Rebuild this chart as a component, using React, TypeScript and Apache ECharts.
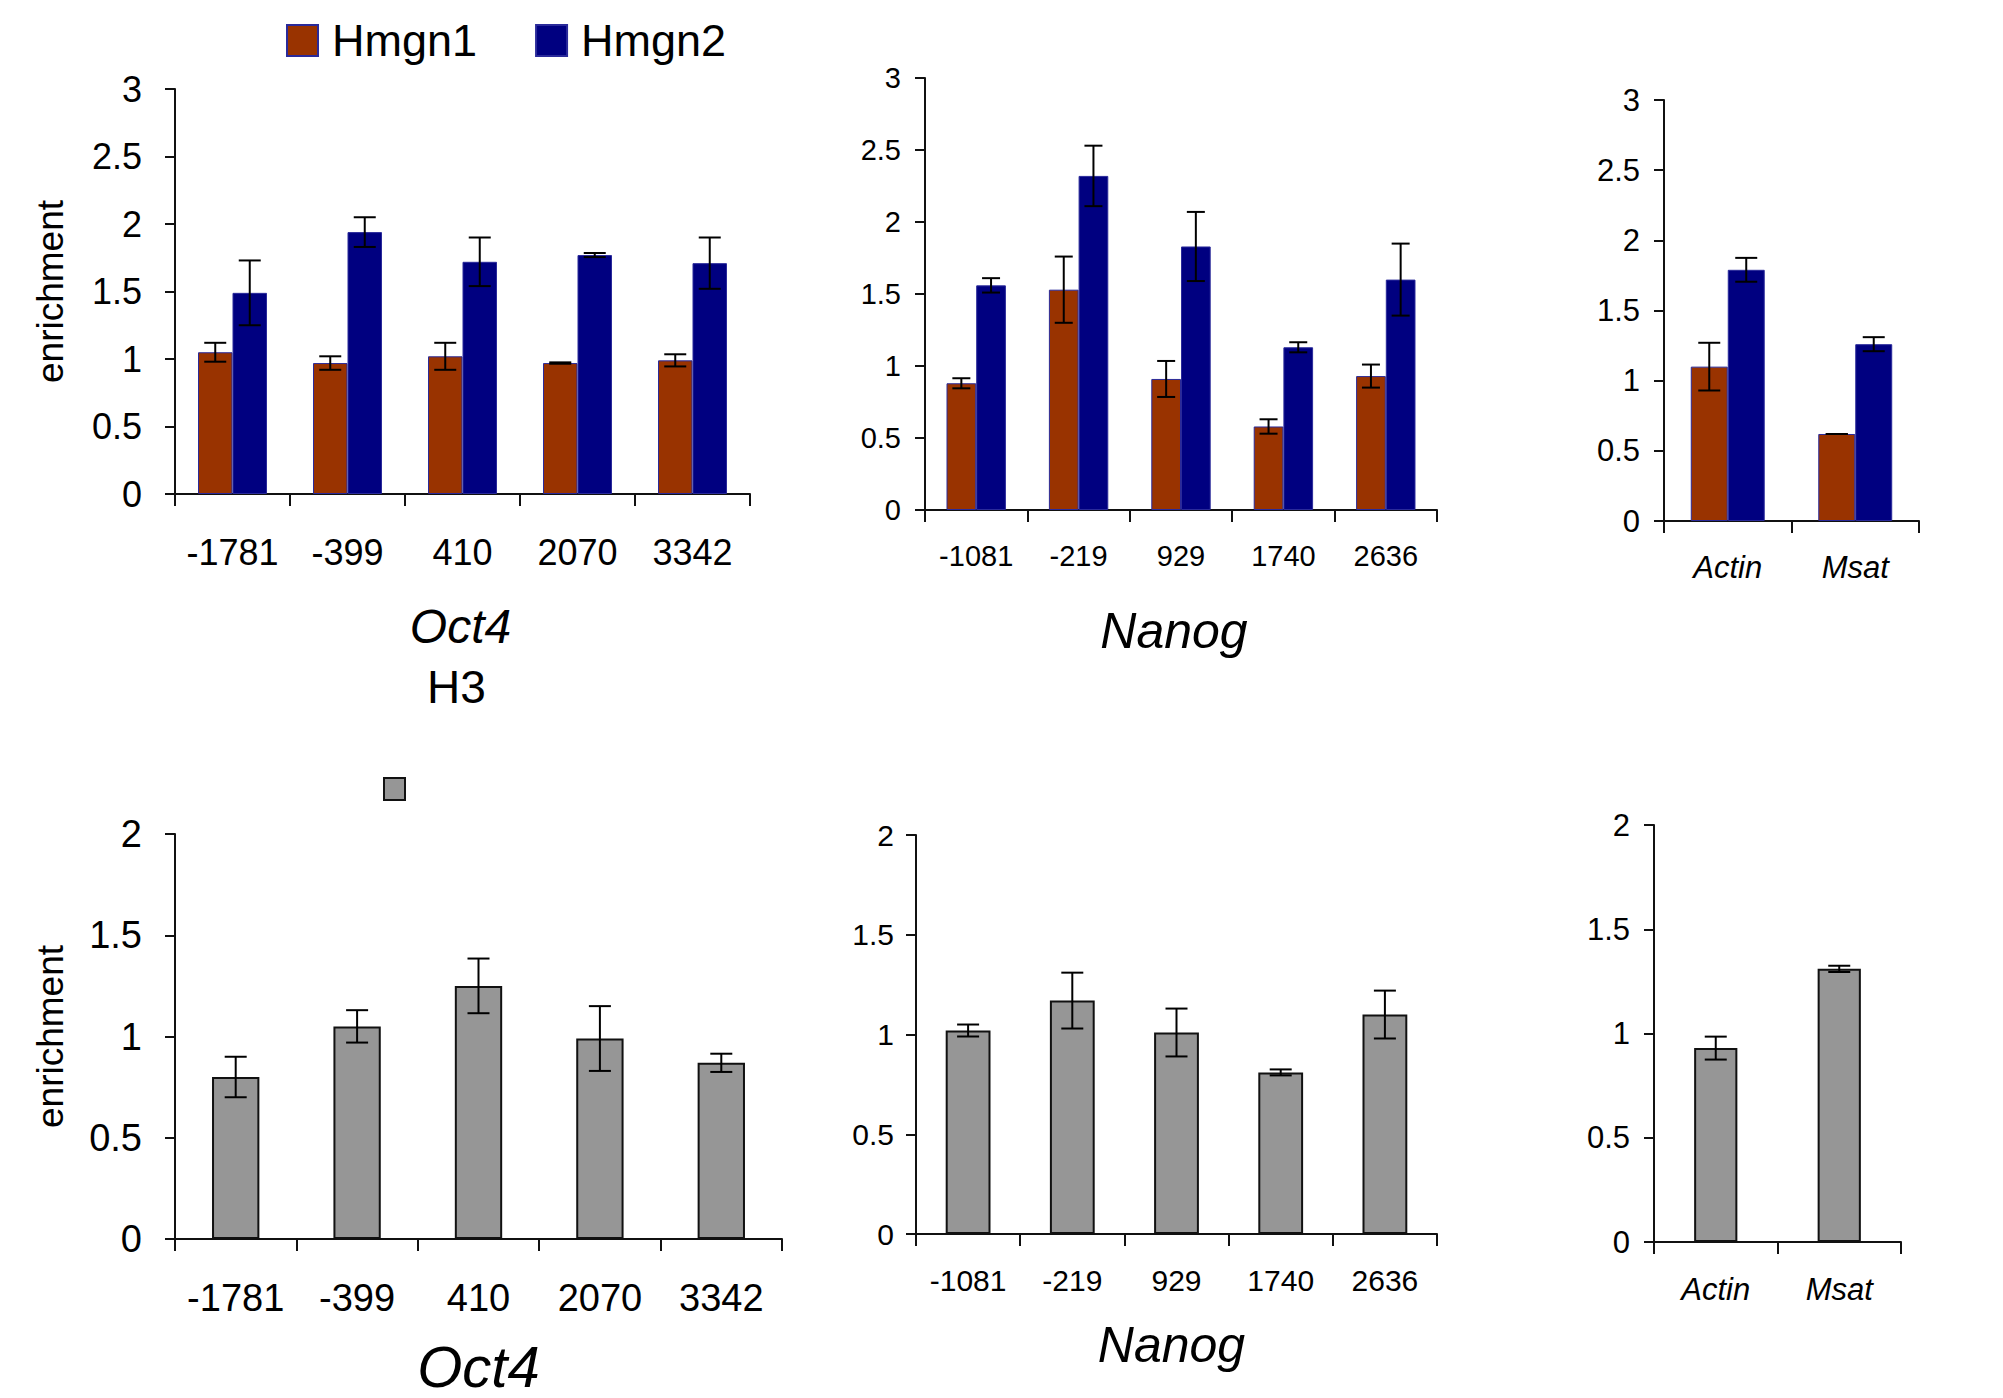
import React, { useEffect, useRef } from "react";
import * as echarts from "echarts";

// Amplicon positions and control loci
const oct4Sites = ["-1781", "-399", "410", "2070", "3342"];
const nanogSites = ["-1081", "-219", "929", "1740", "2636"];
const controlLoci = ["Actin", "Msat"];

// Hmgn1 / Hmgn2 ChIP enrichment (mean, error)
const oct4Hmgn1 = [1.05, 0.97, 1.02, 0.97, 0.99];
const oct4Hmgn1Err = [0.07, 0.05, 0.1, 0.005, 0.045];
const oct4Hmgn2 = [1.49, 1.94, 1.72, 1.77, 1.71];
const oct4Hmgn2Err = [0.24, 0.11, 0.18, 0.015, 0.19];

const nanogHmgn1 = [0.88, 1.53, 0.91, 0.58, 0.93];
const nanogHmgn1Err = [0.035, 0.23, 0.125, 0.05, 0.08];
const nanogHmgn2 = [1.56, 2.32, 1.83, 1.13, 1.6];
const nanogHmgn2Err = [0.05, 0.21, 0.24, 0.035, 0.25];

const ctrlHmgn1 = [1.1, 0.62];
const ctrlHmgn1Err = [0.17, 0.0];
const ctrlHmgn2 = [1.79, 1.26];
const ctrlHmgn2Err = [0.085, 0.05];

// H3 ChIP enrichment (mean, error)
const oct4H3 = [0.8, 1.05, 1.25, 0.99, 0.87];
const oct4H3Err = [0.1, 0.08, 0.135, 0.16, 0.045];
const nanogH3 = [1.02, 1.17, 1.01, 0.81, 1.1];
const nanogH3Err = [0.03, 0.14, 0.12, 0.015, 0.12];
const ctrlH3 = [0.93, 1.31];
const ctrlH3Err = [0.055, 0.015];

const FONT = "'Liberation Sans', Arial, sans-serif";
const HMGN1_COLOR = "#993300";
const HMGN2_COLOR = "#000080";
const H3_COLOR = "#969696";
const AXIS_COLOR = "#111";

type Panel = {
  grid: { left: number; top: number; width: number; height: number };
  cats: string[];
  max: number;
  tickFont: number;
  yMargin: number;
  xMargin: number;
  italicCats?: boolean;
  name?: string;
  nameFont?: number;
  nameGap?: number;
  namePad?: number[];
  yName?: boolean;
};

const panels: Panel[] = [
  { grid: { left: 175, top: 89, width: 575, height: 405 }, cats: oct4Sites, max: 3, tickFont: 36, yMargin: 33, xMargin: 40, name: "Oct4", nameFont: 48, nameGap: 108, namePad: [0, 4, 0, 0], yName: true },
  { grid: { left: 925, top: 78, width: 512, height: 432 }, cats: nanogSites, max: 3, tickFont: 29, yMargin: 24, xMargin: 31, name: "Nanog", nameFont: 50, nameGap: 96, namePad: [0, 14, 0, 0] },
  { grid: { left: 1664, top: 100, width: 255, height: 421 }, cats: controlLoci, max: 3, tickFont: 31, yMargin: 24, xMargin: 31, italicCats: true },
  { grid: { left: 175, top: 834, width: 607, height: 405 }, cats: oct4Sites, max: 2, tickFont: 38, yMargin: 33, xMargin: 40, name: "Oct4", nameFont: 58, nameGap: 98, yName: true },
  { grid: { left: 916, top: 835, width: 521, height: 399 }, cats: nanogSites, max: 2, tickFont: 30, yMargin: 22, xMargin: 31, name: "Nanog", nameFont: 50, nameGap: 86, namePad: [0, 10, 0, 0] },
  { grid: { left: 1654, top: 825, width: 247, height: 417 }, cats: controlLoci, max: 2, tickFont: 31, yMargin: 24, xMargin: 32, italicCats: true },
];

function errorSeries(name: string, idx: number, values: number[], errors: number[], offsetFrac: number, capHalf: number) {
  return {
    type: "custom",
    name,
    xAxisIndex: idx,
    yAxisIndex: idx,
    z: 5,
    encode: { x: 0, y: 1 },
    data: values.map((v, i) => [i, v, errors[i]]),
    renderItem: (_params: any, api: any) => {
      const i = api.value(0);
      const v = api.value(1);
      const e = api.value(2);
      const band = api.size([1, 0])[0];
      const x = api.coord([i, v])[0] + offsetFrac * band;
      const yTop = api.coord([i, v + e])[1];
      const yBot = api.coord([i, v - e])[1];
      const style = { stroke: "#000", lineWidth: 2 };
      return {
        type: "group",
        children: [
          { type: "line", shape: { x1: x, y1: yTop, x2: x, y2: yBot }, style },
          { type: "line", shape: { x1: x - capHalf, y1: yTop, x2: x + capHalf, y2: yTop }, style },
          { type: "line", shape: { x1: x - capHalf, y1: yBot, x2: x + capHalf, y2: yBot }, style },
        ],
      };
    },
  };
}

function barSeries(name: string, idx: number, values: number[], color: string, width: string, border: string, borderWidth: number) {
  return {
    type: "bar",
    name,
    xAxisIndex: idx,
    yAxisIndex: idx,
    data: values,
    barWidth: width,
    barGap: "0%",
    itemStyle: { color, borderColor: border, borderWidth },
  };
}

export default function App() {
  const ref = useRef<HTMLDivElement>(null);

  useEffect(() => {
    document.body.style.margin = "0";
    if (!ref.current) return;
    const chart = echarts.init(ref.current, undefined, { renderer: "svg" });

    const grids = panels.map((p) => ({ ...p.grid, containLabel: false }));
    const xAxes = panels.map((p, i) => ({
      type: "category",
      gridIndex: i,
      data: p.cats,
      boundaryGap: true,
      axisLine: { show: true, lineStyle: { color: AXIS_COLOR, width: 2 } },
      axisTick: { show: true, length: 12, interval: 0, lineStyle: { color: AXIS_COLOR, width: 2 } },
      axisLabel: {
        interval: 0,
        color: "#000",
        fontFamily: FONT,
        fontSize: p.tickFont,
        fontStyle: p.italicCats ? "italic" : "normal",
        margin: p.xMargin,
      },
      name: p.name || "",
      nameLocation: "middle",
      nameGap: p.nameGap || 0,
      nameTextStyle: {
        fontFamily: FONT,
        fontSize: p.nameFont || 40,
        fontStyle: "italic",
        color: "#000",
        padding: p.namePad || 0,
      },
    }));
    const yAxes = panels.map((p, i) => ({
      type: "value",
      gridIndex: i,
      min: 0,
      max: p.max,
      interval: 0.5,
      splitLine: { show: false },
      axisLine: { show: true, lineStyle: { color: AXIS_COLOR, width: 2 } },
      axisTick: { show: true, length: 10, lineStyle: { color: AXIS_COLOR, width: 2 } },
      axisLabel: { color: "#000", fontFamily: FONT, fontSize: p.tickFont, margin: p.yMargin },
      name: p.yName ? "enrichment" : "",
      nameLocation: "middle",
      nameGap: 106,
      nameTextStyle: { fontFamily: FONT, fontSize: 37, color: "#000" },
    }));

    const hmgnBorder = "#2a2a9a";
    const series: any[] = [
      barSeries("Hmgn1", 0, oct4Hmgn1, HMGN1_COLOR, "30%", hmgnBorder, 1),
      barSeries("Hmgn2", 0, oct4Hmgn2, HMGN2_COLOR, "30%", hmgnBorder, 1),
      errorSeries("Hmgn1 error", 0, oct4Hmgn1, oct4Hmgn1Err, -0.15, 11),
      errorSeries("Hmgn2 error", 0, oct4Hmgn2, oct4Hmgn2Err, 0.15, 11),

      barSeries("Hmgn1", 1, nanogHmgn1, HMGN1_COLOR, "29%", hmgnBorder, 1),
      barSeries("Hmgn2", 1, nanogHmgn2, HMGN2_COLOR, "29%", hmgnBorder, 1),
      errorSeries("Hmgn1 error", 1, nanogHmgn1, nanogHmgn1Err, -0.145, 9),
      errorSeries("Hmgn2 error", 1, nanogHmgn2, nanogHmgn2Err, 0.145, 9),

      barSeries("Hmgn1", 2, ctrlHmgn1, HMGN1_COLOR, "29%", hmgnBorder, 1),
      barSeries("Hmgn2", 2, ctrlHmgn2, HMGN2_COLOR, "29%", hmgnBorder, 1),
      errorSeries("Hmgn1 error", 2, ctrlHmgn1, ctrlHmgn1Err, -0.145, 11),
      errorSeries("Hmgn2 error", 2, ctrlHmgn2, ctrlHmgn2Err, 0.145, 11),

      barSeries("H3", 3, oct4H3, H3_COLOR, "39%", "#111", 2),
      errorSeries("H3 error", 3, oct4H3, oct4H3Err, 0, 11),
      barSeries("H3", 4, nanogH3, H3_COLOR, "43%", "#111", 2),
      errorSeries("H3 error", 4, nanogH3, nanogH3Err, 0, 11),
      barSeries("H3", 5, ctrlH3, H3_COLOR, "35%", "#111", 2),
      errorSeries("H3 error", 5, ctrlH3, ctrlH3Err, 0, 11),
    ];

    chart.setOption({
      animation: false,
      backgroundColor: "#fff",
      textStyle: { fontFamily: FONT },
      grid: grids,
      xAxis: xAxes,
      yAxis: yAxes,
      legend: [
        {
          data: ["Hmgn1", "Hmgn2"],
          left: 286,
          top: 18,
          padding: 0,
          icon: "rect",
          itemWidth: 31,
          itemHeight: 31,
          itemGap: 58,
          selectedMode: false,
          textStyle: { fontFamily: FONT, fontSize: 45, color: "#000", padding: [0, 0, 0, 9] },
        },
        {
          data: ["H3"],
          left: 383,
          top: 777,
          padding: 0,
          icon: "rect",
          itemWidth: 21,
          itemHeight: 22,
          selectedMode: false,
          formatter: () => "",
          textStyle: { fontSize: 1 },
        },
      ],
      graphic: [
        {
          type: "text",
          left: 457 - 30,
          top: 690 - 26,
          style: { text: "H3", font: `46px ${FONT}`, fill: "#000" },
        },
      ],
      series,
    });

    return () => chart.dispose();
  }, []);

  return <div ref={ref} style={{ width: 2003, height: 1398 }} />;
}
